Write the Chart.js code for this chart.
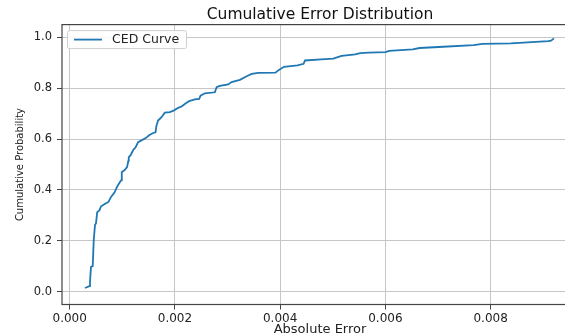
<!DOCTYPE html>
<html>
<head>
<meta charset="utf-8">
<script src="https://cdn.jsdelivr.net/npm/chart.js@4"></script>
<style>
  html, body { margin: 0; padding: 0; background: #fff; overflow: hidden; }
  #wrap { width: 600px; height: 335px; }
</style>
</head>
<body>
<div id="wrap"><canvas id="ced" width="600" height="335"></canvas></div>
<script>
// sorted absolute errors and their cumulative probability
const absError = [
  0.000291, 0.000375, 0.000386, 0.000405, 0.000438, 0.000457, 0.000481, 0.000500, 0.000523, 0.000565,
  0.000596, 0.000660, 0.000736, 0.000786, 0.000851, 0.000900, 0.000927, 0.000976, 0.000990, 0.001041,
  0.001090, 0.001117, 0.001123, 0.001155, 0.001205, 0.001256, 0.001300, 0.001364, 0.001446, 0.001509,
  0.001585, 0.001631, 0.001650, 0.001680, 0.001745, 0.001808, 0.001903, 0.001985, 0.002061, 0.002126,
  0.002207, 0.002270, 0.002379, 0.002461, 0.002487, 0.002569, 0.002759, 0.002792, 0.002854, 0.003012,
  0.003077, 0.003235, 0.003363, 0.003458, 0.003583, 0.003911, 0.003975, 0.004072, 0.004329, 0.004445,
  0.004472, 0.004780, 0.005007, 0.005167, 0.005425, 0.005520, 0.005682, 0.006004, 0.006068, 0.006520,
  0.006649, 0.007098, 0.007678, 0.007840, 0.008386, 0.009096, 0.009147, 0.009204
];
const cumProb = [
  0.015, 0.022, 0.039, 0.098, 0.101, 0.203, 0.262, 0.269, 0.313, 0.320,
  0.336, 0.344, 0.353, 0.373, 0.390, 0.412, 0.422, 0.438, 0.471, 0.477,
  0.490, 0.516, 0.529, 0.536, 0.556, 0.569, 0.588, 0.595, 0.604, 0.615,
  0.624, 0.627, 0.654, 0.673, 0.686, 0.704, 0.706, 0.713, 0.723, 0.728,
  0.741, 0.749, 0.756, 0.758, 0.771, 0.780, 0.784, 0.804, 0.809, 0.815,
  0.824, 0.833, 0.847, 0.856, 0.860, 0.861, 0.872, 0.884, 0.890, 0.896,
  0.909, 0.913, 0.916, 0.927, 0.933, 0.938, 0.940, 0.942, 0.947, 0.953,
  0.958, 0.963, 0.969, 0.974, 0.976, 0.985, 0.987, 0.996
];
const xTicks = [0, 0.002, 0.004, 0.006, 0.008];
const yTicks = [0, 0.2, 0.4, 0.6, 0.8, 1.0];

const FONT = "'DejaVu Sans', sans-serif";
const gridColor = '#c6c6c6';
const spineColor = '#444';

// matplotlib-like box round the axes
const frame = {
  id: 'frame',
  afterDatasetsDraw(chart) {
    const { ctx, chartArea: a } = chart;
    ctx.save();
    ctx.strokeStyle = spineColor;
    ctx.lineWidth = 1.2;
    ctx.strokeRect(a.left, a.top, a.right - a.left, a.bottom - a.top);
    ctx.restore();
  }
};

// legend drawn in the upper left corner of the plot, with a framed box
const boxLegend = {
  id: 'boxLegend',
  afterDraw(chart) {
    const { ctx, chartArea: a } = chart;
    const ds = chart.data.datasets[0];
    const x0 = a.left + 5, y0 = a.top + 5.5, w = 119, h = 18;
    ctx.save();
    ctx.fillStyle = 'rgba(255,255,255,0.85)';
    ctx.strokeStyle = '#cfcfcf';
    ctx.lineWidth = 1;
    ctx.beginPath();
    ctx.roundRect(x0 + 0.5, y0 + 0.5, w, h, 2);
    ctx.fill();
    ctx.stroke();
    const cy = y0 + h / 2 + 0.5;
    ctx.strokeStyle = ds.borderColor;
    ctx.lineWidth = ds.borderWidth;
    ctx.beginPath();
    ctx.moveTo(x0 + 7, cy);
    ctx.lineTo(x0 + 35, cy);
    ctx.stroke();
    ctx.fillStyle = '#222';
    ctx.font = '12.5px ' + FONT;
    ctx.textBaseline = 'middle';
    ctx.fillText(ds.label, x0 + 45, cy);
    ctx.restore();
  }
};

new Chart(document.getElementById('ced'), {
  type: 'line',
  data: {
    datasets: [{
      label: 'CED Curve',
      data: absError.map((v, i) => ({ x: v, y: cumProb[i] })),
      borderColor: '#1f77b4',
      borderWidth: 1.8,
      pointRadius: 0,
      tension: 0,
      fill: false
    }]
  },
  options: {
    responsive: false,
    animation: false,
    layout: { padding: { left: 0, right: 22, top: 0, bottom: 0 } },
    plugins: {
      legend: { display: false },
      tooltip: { enabled: false },
      title: {
        display: true,
        text: 'Cumulative Error Distribution',
        fullSize: false,
        color: '#111',
        font: { family: FONT, size: 15.5, weight: 'normal' },
        padding: { top: 6, bottom: 0 }
      }
    },
    scales: {
      x: {
        type: 'linear',
        min: -0.000146,
        max: 0.00966,
        afterBuildTicks: s => { s.ticks = xTicks.map(v => ({ value: v })); },
        afterFit: s => { s.height = 30.5; },
        ticks: {
          callback: v => v.toFixed(3),
          color: '#222',
          font: { family: FONT, size: 12 },
          padding: 2,
          maxRotation: 0,
          autoSkip: false
        },
        grid: { color: gridColor, lineWidth: 1, tickLength: 5, tickColor: spineColor },
        border: { display: false },
        title: {
          display: true,
          text: 'Absolute Error',
          color: '#222',
          font: { family: FONT, size: 13 },
          padding: { top: 0, bottom: -2.5 }
        }
      },
      y: {
        min: -0.05,
        max: 1.05,
        afterBuildTicks: s => { s.ticks = yTicks.map(v => ({ value: v })); },
        afterFit: s => { s.width = 62; },
        ticks: {
          callback: v => v.toFixed(1),
          color: '#222',
          font: { family: FONT, size: 11.5 },
          padding: 5
        },
        grid: { color: gridColor, lineWidth: 1, tickLength: 5, tickColor: spineColor },
        border: { display: false },
        title: {
          display: true,
          text: 'Cumulative Probability',
          color: '#222',
          font: { family: FONT, size: 10 },
          padding: { top: 14, bottom: 0 }
        }
      }
    }
  },
  plugins: [frame, boxLegend]
});
</script>
</body>
</html>
